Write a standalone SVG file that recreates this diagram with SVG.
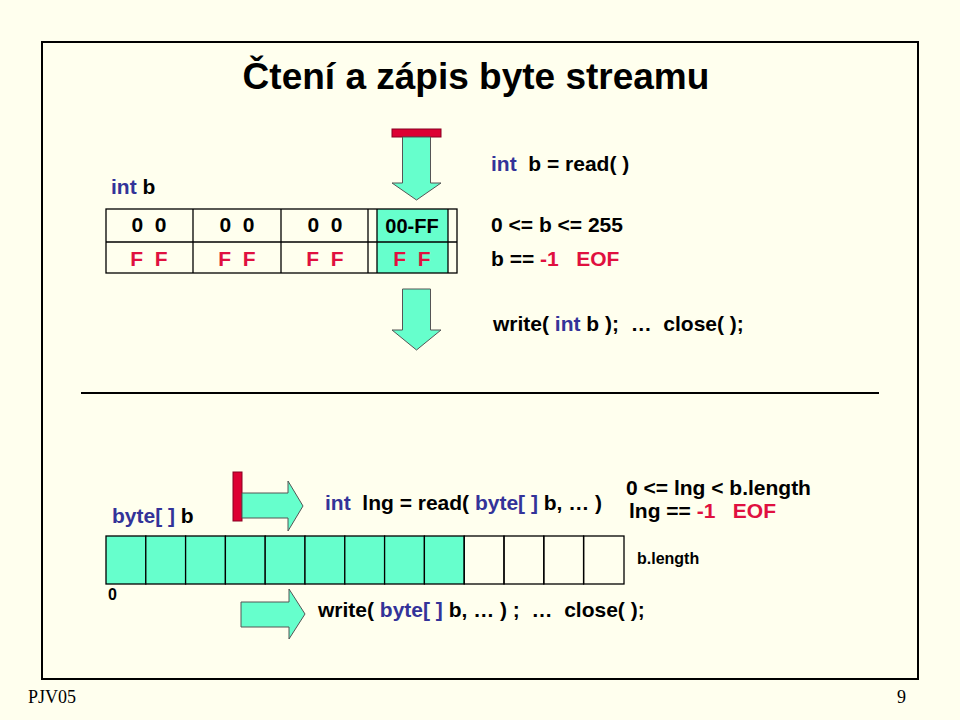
<svg xmlns="http://www.w3.org/2000/svg" width="960" height="720" viewBox="0 0 960 720" xml:space="preserve">
<style>
text{font-family:"Liberation Sans",Arial,sans-serif;font-weight:bold;fill:#000;white-space:pre}
.t{font-size:21px}
.b{fill:#333399}
.r{fill:#e0103f}
.cell{fill:none;stroke:#000;stroke-width:1.3}
.g{fill:#66ffcc;stroke:#000;stroke-width:1.3}
.w{fill:none;stroke:#000;stroke-width:1.3}
.arr{fill:#66ffcc;stroke:#555;stroke-width:1}
.bar{fill:#dd0033;stroke:#880022;stroke-width:1}
.f{font-family:"Liberation Serif","Times New Roman",serif;font-weight:normal;font-size:18px}
</style>
<rect width="960" height="720" fill="#ffffee"/>
<rect x="42" y="42" width="876" height="637" fill="none" stroke="#000" stroke-width="2"/>
<line x1="81" y1="393" x2="879" y2="393" stroke="#000" stroke-width="2"/>
<text x="476" y="89" font-size="37" text-anchor="middle">Čtení a zápis byte streamu</text>

<g id="int-b-table">
<text x="111" y="194" class="t b">int <tspan fill="#000">b</tspan></text>
<rect x="377" y="209" width="71" height="64" fill="#66ffcc"/>
<rect x="106" y="209" width="351" height="64" class="cell"/>
<line x1="106" y1="242" x2="457" y2="242" class="cell"/>
<line x1="193" y1="209" x2="193" y2="273" class="cell"/>
<line x1="281" y1="209" x2="281" y2="273" class="cell"/>
<line x1="368" y1="209" x2="368" y2="273" class="cell"/>
<line x1="377" y1="209" x2="377" y2="273" class="cell"/>
<line x1="448" y1="209" x2="448" y2="273" class="cell"/>
<g class="t" text-anchor="middle">
<text x="149" y="232">0  0</text><text x="237" y="232">0  0</text><text x="325" y="232">0  0</text><text x="412" y="233" font-size="20">00-FF</text>
<text x="149" y="266" class="r">F  F</text><text x="237" y="266" class="r">F  F</text><text x="325" y="266" class="r">F  F</text><text x="412" y="266" class="r">F  F</text>
</g>
</g>

<g id="read-arrow">
<rect x="392" y="129" width="49" height="8" class="bar"/>
<path d="M402.5 137 H430.5 V183 H441 L416.5 200 L392 183 H402.5 Z" class="arr"/>
</g>
<g id="write-arrow">
<path d="M402.5 289 H430.5 V330 H441 L416.5 350 L392 330 H402.5 Z" class="arr"/>
</g>

<g id="read-labels" class="t">
<text x="491" y="171"><tspan class="b">int</tspan>  b = read( )</text>
<text x="491" y="232">0 &lt;= b &lt;= 255</text>
<text x="491" y="266">b == <tspan class="r">-1   EOF</tspan></text>
<text x="493" y="331">write( <tspan class="b">int</tspan> b );  …  close( );</text>
</g>

<g id="array">
<text x="112" y="523" class="t b">byte[ ] <tspan fill="#000">b</tspan></text>
<g class="g">
<rect x="106" y="536" width="39.8" height="48"/><rect x="145.8" y="536" width="39.8" height="48"/><rect x="185.6" y="536" width="39.8" height="48"/><rect x="225.4" y="536" width="39.8" height="48"/><rect x="265.2" y="536" width="39.8" height="48"/><rect x="305" y="536" width="39.8" height="48"/><rect x="344.8" y="536" width="39.8" height="48"/><rect x="384.6" y="536" width="39.8" height="48"/><rect x="424.4" y="536" width="39.8" height="48"/>
</g>
<g class="w">
<rect x="464.2" y="536" width="39.8" height="48"/><rect x="504" y="536" width="39.8" height="48"/><rect x="543.8" y="536" width="39.8" height="48"/><rect x="583.6" y="536" width="40.4" height="48"/>
</g>
<text x="108" y="600" font-size="16">0</text>
<text x="637" y="564" font-size="16">b.length</text>
</g>

<g id="array-read-arrow">
<rect x="233" y="472" width="9" height="49" class="bar"/>
<path d="M242 493 H288 V481 L303 506 L288 531 V518 H242 Z" class="arr"/>
</g>
<g id="array-write-arrow">
<path d="M241 602 H289 V589 L305 614 L289 639 V627 H241 Z" class="arr"/>
</g>

<g id="array-labels" class="t">
<text x="325" y="510"><tspan class="b">int</tspan>  lng = read( <tspan class="b">byte[ ]</tspan> b, … )</text>
<text x="626" y="495">0 &lt;= lng &lt; b.length</text>
<text x="629" y="518">lng == <tspan class="r">-1   EOF</tspan></text>
<text x="318" y="617">write( <tspan class="b">byte[ ]</tspan> b, … ) ;  …  close( );</text>
</g>

<text x="28" y="703" class="f">PJV05</text>
<text x="906" y="703" class="f" text-anchor="end">9</text>
</svg>
